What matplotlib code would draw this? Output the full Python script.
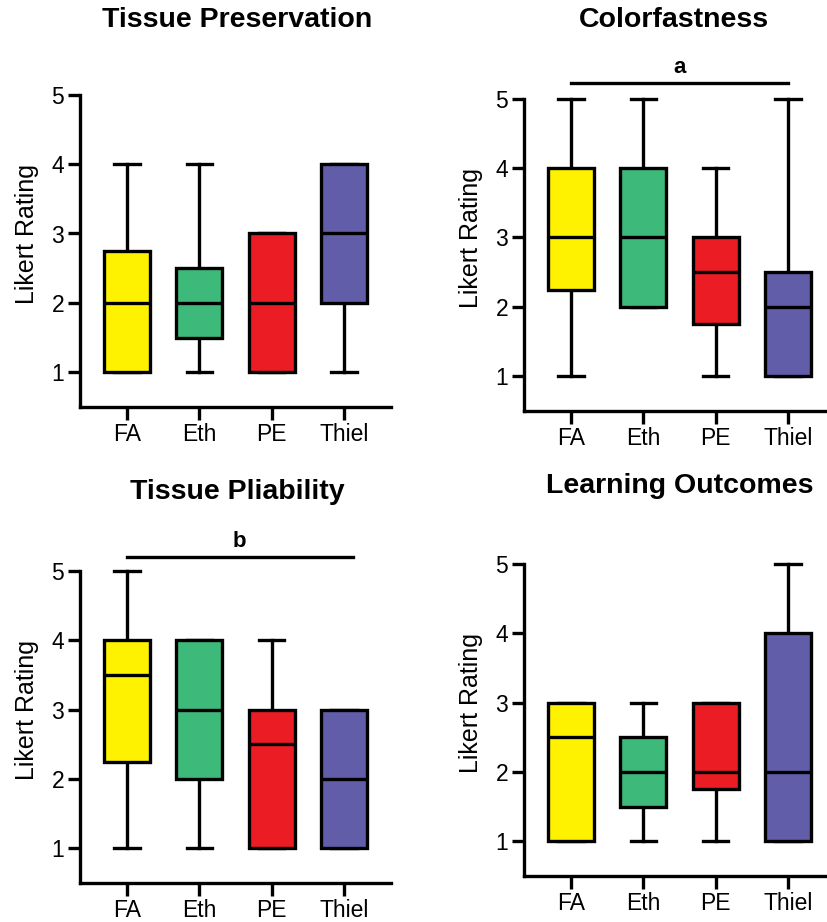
import matplotlib
matplotlib.use("Agg")
import matplotlib.pyplot as plt

plt.rcParams['font.family'] = ['Liberation Sans', 'DejaVu Sans']

categories = ["FA", "Eth", "PE", "Thiel"]
colors = ["#FFF200", "#3DB97A", "#EC1C24", "#615DA9"]

titles = ["Tissue Preservation", "Colorfastness", "Tissue Pliability", "Learning Outcomes"]

# each entry: (whislo, q1, median, q3, whishi) per category
tissue_preservation = [(1, 1, 2, 2.75, 4), (1, 1.5, 2, 2.5, 4), (1, 1, 2, 3, 3), (1, 2, 3, 4, 4)]
colorfastness = [(1, 2.25, 3, 4, 5), (2, 2, 3, 4, 5), (1, 1.75, 2.5, 3, 4), (1, 1, 2, 2.5, 5)]
tissue_pliability = [(1, 2.25, 3.5, 4, 5), (1, 2, 3, 4, 4), (1, 1, 2.5, 3, 4), (1, 1, 2, 3, 3)]
learning_outcomes = [(1, 1, 2.5, 3, 3), (1, 1.5, 2, 2.5, 3), (1, 1.75, 2, 3, 3), (1, 1, 2, 4, 5)]

panels = [tissue_preservation, colorfastness, tissue_pliability, learning_outcomes]

# significance bars: (label, x start, x end, label x, y)
sig_bars = [None, ("a", 0, 3, 1.5, 5.23), ("b", 0, 3.12, 1.55, 5.2), None]

W, H = 827, 922
fig = plt.figure(figsize=(W / 100, H / 100), dpi=100)

# axes layout in pixels: (left, bottom spine y)
layout = [(80, 407), (524, 411), (80, 883), (524, 876)]
ax_w_px = 311
ax_h_px = 347
title_pos_px = [(237, 20), (674, 20), (237, 492), (680, 486)]

LW = 2.4
for i, (stats_vals, title) in enumerate(zip(panels, titles)):
    lx, by = layout[i]
    ax = fig.add_axes([lx / W, (H - by) / H, ax_w_px / W, ax_h_px / H])
    stats = []
    for cat, (lo, q1, med, q3, hi) in zip(categories, stats_vals):
        stats.append(dict(label=cat, whislo=lo, q1=q1, med=med, q3=q3, whishi=hi, fliers=[]))
    bp = ax.bxp(stats, positions=range(len(categories)), widths=0.64, capwidths=0.35,
                patch_artist=True, showfliers=False,
                boxprops=dict(linewidth=LW, edgecolor='black'),
                medianprops=dict(linewidth=LW, color='black'),
                whiskerprops=dict(linewidth=LW, color='black'),
                capprops=dict(linewidth=LW, color='black'))
    for patch, c in zip(bp['boxes'], colors):
        patch.set_facecolor(c)
    for art in bp['whiskers'] + bp['caps']:
        art.set_zorder(1)
    ax.set_xlim(-0.65, 3.65)
    ax.set_ylim(0.5, 5.5)
    ax.set_yticks([1, 2, 3, 4, 5])
    ax.set_xticks(range(len(categories)))
    ax.set_xticklabels(categories)
    for s in ['top', 'right']:
        ax.spines[s].set_visible(False)
    ax.spines['left'].set_bounds(0.5, 5)
    for s in ['left', 'bottom']:
        ax.spines[s].set_linewidth(LW)
    ax.tick_params(axis='y', length=9, width=LW, labelsize=16.5, pad=2.5)
    ax.tick_params(axis='x', length=9.5, width=LW, labelsize=16.5, pad=2)
    ax.set_ylabel("Likert Rating", fontsize=18, labelpad=9)
    ax.patch.set_visible(False)
    tx, ty = title_pos_px[i]
    fig.text(tx / W, 1 - ty / H, title, fontsize=20.5, fontweight='bold',
             ha='center', va='center')
    sb = sig_bars[i]
    if sb is not None:
        lab, x0, x1, lx_lab, y = sb
        ax.plot([x0, x1], [y, y], color='black', linewidth=LW, clip_on=False)
        ax.text(lx_lab, y + 0.07, lab, fontsize=16, fontweight='bold',
                ha='center', va='bottom')

fig.savefig("out.png", dpi=100)
